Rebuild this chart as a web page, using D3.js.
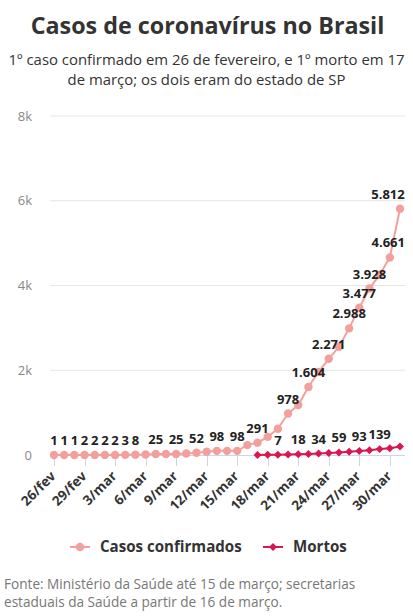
<!DOCTYPE html>
<html>
<head>
<meta charset="utf-8">
<script src="https://cdn.jsdelivr.net/npm/d3@7"></script>
<style>
  html, body { margin: 0; padding: 0; background: #fff; }
  svg { display: block; font-family: "Open Sans", sans-serif; }
</style>
</head>
<body>
<svg id="chart" width="413" height="616"></svg>
<script>
// ---- data ----
const dates = ["26/fev","27/fev","28/fev","29/fev","1/mar","2/mar","3/mar","4/mar","5/mar","6/mar",
  "7/mar","8/mar","9/mar","10/mar","11/mar","12/mar","13/mar","14/mar","15/mar","16/mar",
  "17/mar","18/mar","19/mar","20/mar","21/mar","22/mar","23/mar","24/mar","25/mar","26/mar",
  "27/mar","28/mar","29/mar","30/mar","31/mar"];
const confirmed = [1,1,1,2,2,2,2,3,8,13,25,25,25,34,52,77,98,98,98,234,291,428,621,978,1178,1604,1960,2271,2554,2988,3477,3928,4256,4661,5812];
const deaths = [null,null,null,null,null,null,null,null,null,null,null,null,null,null,null,null,null,null,null,null,
  1,4,7,11,18,25,34,46,59,77,93,114,139,159,201];
const tickLabels = ["26/fev","29/fev","3/mar","6/mar","9/mar","12/mar","15/mar","18/mar","21/mar","24/mar","27/mar","30/mar"];
const yTicks = [0, 2000, 4000, 6000, 8000];
const yTickLabels = ["0","2k","4k","6k","8k"];
const seriesNames = ["Casos confirmados", "Mortos"];
const colors = ["#f3a09d", "#d9164f"];
const title = "Casos de coronavírus no Brasil";
const subtitle = ["1º caso confirmado em 26 de fevereiro, e 1º morto em 17", "de março; os dois eram do estado de SP"];
const source = ["Fonte: Ministério da Saúde até 15 de março; secretarias", "estaduais da Saúde a partir de 16 de março."];

// ---- layout ----
const svg = d3.select("#chart");
const W = 413;
const plotLeft = 50, plotRight = 405;
const x = d3.scaleLinear().domain([0, dates.length - 1]).range([54, 400]);
const y = d3.scaleLinear().domain([0, 8000]).range([455, 116]);
const fmt = v => d3.format(",")(v).replace(/,/g, ".");

// title
svg.append("text").attr("x", W/2 + 1).attr("y", 34).attr("text-anchor", "middle")
  .attr("font-size", 23.3).attr("font-weight", 700).attr("fill", "#333").text(title);
const sub = svg.append("text").attr("text-anchor", "middle").attr("font-size", 14.9).attr("fill", "#333");
subtitle.forEach((s, i) => {
  sub.append("tspan").attr("x", W/2).attr("y", 65 + i*20).text(s);
});

// grid
const grid = svg.append("g");
yTicks.forEach((t, i) => {
  if (t > 0) grid.append("line").attr("x1", plotLeft).attr("x2", plotRight)
    .attr("y1", y(t)).attr("y2", y(t)).attr("stroke", "#e6e6e6").attr("stroke-width", 1);
  grid.append("text").attr("x", 32).attr("y", y(t) + 4.5).attr("text-anchor", "end")
    .attr("font-size", 13).attr("fill", "#888").text(yTickLabels[i]);
});

// x axis
const xa = svg.append("g");
xa.append("line").attr("x1", plotLeft).attr("x2", plotRight).attr("y1", 455.5).attr("y2", 455.5)
  .attr("stroke", "#ccd6eb");
tickLabels.forEach(lbl => {
  const i = dates.indexOf(lbl);
  const px = Math.round(x(i)) + 0.5;
  xa.append("line").attr("x1", px).attr("x2", px).attr("y1", 455).attr("y2", 466)
    .attr("stroke", "#ccd6eb");
  xa.append("text").attr("transform", `translate(${px + 2},${477}) rotate(-45)`)
    .attr("text-anchor", "end").attr("font-size", 13.5).attr("font-weight", 700)
    .attr("fill", "#333").text(lbl);
});

// series
const allSeries = [confirmed, deaths];
const plot = svg.append("g");
allSeries.forEach((data, si) => {
  const pts = data.map((v, i) => ({i, v})).filter(d => d.v != null);
  plot.append("path").datum(pts)
    .attr("d", d3.line().x(d => x(d.i)).y(d => y(d.v)))
    .attr("fill", "none").attr("stroke", colors[si]).attr("stroke-width", 2);
  if (si === 0) {
    plot.selectAll(null).data(pts).enter().append("circle")
      .attr("cx", d => x(d.i)).attr("cy", d => y(d.v)).attr("r", 4.2).attr("fill", colors[si]);
  } else {
    plot.selectAll(null).data(pts).enter().append("path")
      .attr("d", d3.symbol().type(d3.symbolDiamond2).size(40))
      .attr("transform", d => `translate(${x(d.i)},${y(d.v)})`).attr("fill", colors[si]);
  }
});

// data labels with overlap hiding
const lg = svg.append("g");
const shown = [];
allSeries.forEach((data, si) => {
  data.forEach((v, i) => {
    if (v == null) return;
    const t = lg.append("text").attr("x", x(i)).attr("y", y(v) - 10)
      .attr("text-anchor", "middle").attr("font-size", 13).attr("font-weight", 700)
      .attr("fill", "#222").text(fmt(v));
    let b = t.node().getBBox();
    if (b.x + b.width > plotRight) {
      t.attr("x", plotRight - b.width/2);
      b = t.node().getBBox();
    }
    const box = {x1: b.x - 0.6, x2: b.x + b.width + 0.6, y1: b.y, y2: b.y + b.height};
    const hit = shown.some(o => box.x1 < o.x2 && box.x2 > o.x1 && box.y1 < o.y2 && box.y2 > o.y1);
    if (hit) t.remove(); else shown.push(box);
  });
});

// legend
const leg = svg.append("g");
const legItems = [{x: 70, tx: 100}, {x: 263, tx: 293}];
legItems.forEach((it, si) => {
  const cy = 547;
  leg.append("line").attr("x1", it.x).attr("x2", it.x + 20).attr("y1", cy).attr("y2", cy)
    .attr("stroke", colors[si]).attr("stroke-width", 2);
  if (si === 0) leg.append("circle").attr("cx", it.x + 10).attr("cy", cy).attr("r", 4.2).attr("fill", colors[si]);
  else leg.append("path").attr("d", d3.symbol().type(d3.symbolDiamond2).size(40))
    .attr("transform", `translate(${it.x + 10},${cy})`).attr("fill", colors[si]);
  leg.append("text").attr("x", it.tx).attr("y", cy + 5).attr("font-size", 15.1).attr("font-weight", 700)
    .attr("fill", "#333").text(seriesNames[si]);
});

// source (one text block, wrapped in two lines)
const src = svg.append("text").attr("font-size", 13.6).attr("fill", "#777");
source.forEach((s, i) => {
  src.append("tspan").attr("x", 4).attr("y", 588.5 + i*18.6).text(s);
});
</script>
</body>
</html>
